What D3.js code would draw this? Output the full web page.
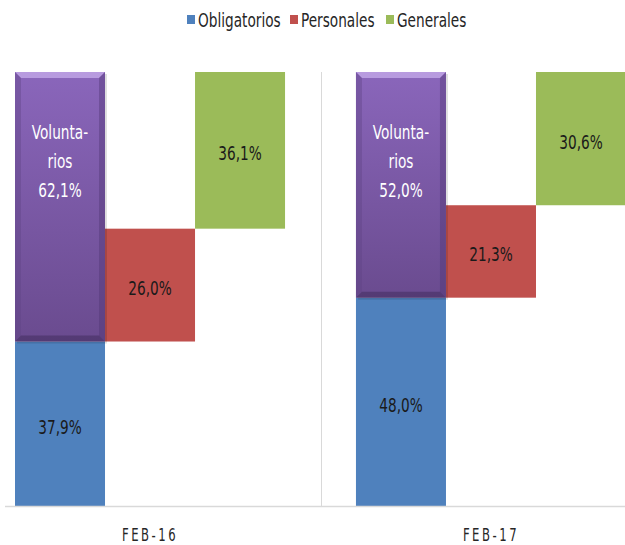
<!DOCTYPE html>
<html>
<head>
<meta charset="utf-8">
<script src="https://cdn.jsdelivr.net/npm/d3@7"></script>
<style>
  body { margin: 0; background: #fff; }
  svg text { font-family: "DejaVu Sans Condensed", "DejaVu Sans", sans-serif; }
</style>
</head>
<body>
<div id="chart"></div>
<script>
const categories = ["FEB-16", "FEB-17"];
const series = ["Obligatorios", "Personales", "Generales"];
const obligatorios = [37.9, 48.0];
const personales = [26.0, 21.3];
const generales = [36.1, 30.6];
const voluntarios = [62.1, 52.0];
const colors = { Obligatorios: "#4F81BD", Personales: "#C0504D", Generales: "#9BBB59" };

const fmt = v => d3.format(".1f")(v).replace(".", ",") + "%";
const SX = 0.76; // horizontal squeeze to mimic the narrow font

const width = 625, height = 545;
const svg = d3.select("#chart").append("svg")
  .attr("width", width).attr("height", height);

// narrow text helper
function ntext(parent, x, y, str, opts) {
  const g = parent.append("g").attr("transform", `translate(${x},${y}) scale(${opts.sx || SX},1)`);
  return g.append("text")
    .attr("text-anchor", opts.anchor || "middle")
    .attr("font-size", opts.size || 20)
    .attr("letter-spacing", opts.ls || 0)
    .attr("fill", opts.fill || "#1a1a1a")
    .text(str);
}

const x0 = d3.scaleBand().domain(categories).range([15, 626]).paddingInner(0.208).paddingOuter(0);
const x1 = d3.scaleBand().domain(series).range([0, x0.bandwidth()]).padding(0);
const y = d3.scaleLinear().domain([0, 100]).range([506, 72]);

const defs = svg.append("defs");
const grad = defs.append("linearGradient").attr("id", "purp")
  .attr("x1", 0).attr("y1", 0).attr("x2", 0).attr("y2", 1);
grad.append("stop").attr("offset", "0%").attr("stop-color", "#8A66BB");
grad.append("stop").attr("offset", "100%").attr("stop-color", "#6A4B8F");

// waterfall segments
const segs = [];
categories.forEach((c, i) => {
  const o = obligatorios[i], p = personales[i], g = generales[i];
  segs.push({ cat: c, s: "Obligatorios", y0: 0, y1: o, v: o });
  segs.push({ cat: c, s: "Personales", y0: o, y1: o + p, v: p });
  segs.push({ cat: c, s: "Generales", y0: o + p, y1: 100, v: g });
});

const sepX = Math.round((x0("FEB-16") + x0.bandwidth() + x0("FEB-17")) / 2) + 0.5;
svg.append("line")
  .attr("x1", sepX).attr("x2", sepX)
  .attr("y1", y(100)).attr("y2", y(0))
  .attr("stroke", "#D9D9D9").attr("stroke-width", 1);

svg.selectAll("rect.bar")
  .data(segs)
  .join("rect")
  .attr("class", "bar")
  .attr("x", d => x0(d.cat) + x1(d.s))
  .attr("y", d => y(d.y1))
  .attr("width", x1.bandwidth())
  .attr("height", d => y(d.y0) - y(d.y1))
  .attr("fill", d => colors[d.s]);

segs.forEach(d => {
  ntext(svg, x0(d.cat) + x1(d.s) + x1.bandwidth() / 2, (y(d.y0) + y(d.y1)) / 2 + 10, fmt(d.v), {});
});

// voluntarios boxes with bevel
categories.forEach((c, i) => {
  const bx = x0(c) + x1("Obligatorios"), bw = x1.bandwidth();
  const top = y(100), bot = y(obligatorios[i]);
  const b = 6;
  const g = svg.append("g");
  g.append("rect").attr("x", bx + 2).attr("y", top + 2).attr("width", bw).attr("height", bot - top)
    .attr("fill", "#000").attr("opacity", 0.12);
  g.append("rect").attr("x", bx).attr("y", top).attr("width", bw).attr("height", bot - top)
    .attr("fill", "url(#purp)");
  const poly = (pts, fill, op) => g.append("polygon")
    .attr("points", pts.map(p => p.join(",")).join(" ")).attr("fill", fill).attr("opacity", op);
  poly([[bx, top], [bx + bw, top], [bx + bw - b, top + b], [bx + b, top + b]], "#C7ADEB", 0.75);
  poly([[bx, top], [bx + b, top + b], [bx + b, bot - b], [bx, bot]], "#5E4385", 0.4);
  poly([[bx + bw, top], [bx + bw - b, top + b], [bx + bw - b, bot - b], [bx + bw, bot]], "#4E3570", 0.4);
  poly([[bx, bot], [bx + b, bot - b], [bx + bw - b, bot - b], [bx + bw, bot]], "#3E2A5A", 0.5);
  const cx = bx + bw / 2;
  [["Volunta-", 131], ["rios", 160], [fmt(voluntarios[i]), 189]].forEach(([t, yy]) => {
    ntext(g, cx, yy + 8, t, { fill: "#fff" });
  });
});

svg.append("line").attr("x1", 5).attr("x2", 625)
  .attr("y1", y(0) + 0.5).attr("y2", y(0) + 0.5)
  .attr("stroke", "#D9D9D9").attr("stroke-width", 1.5);

// category labels
categories.forEach(c => {
  ntext(svg, x0(c) + x0.bandwidth() / 2, 541, c, { size: 18, ls: 3.5, fill: "#262626", sx: 0.72 });
});

// legend
const legendX = [187, 290, 386];
const leg = svg.selectAll("g.leg")
  .data(series)
  .join("g")
  .attr("class", "leg")
  .attr("transform", (d, i) => `translate(${legendX[i]},0)`);
leg.append("rect").attr("x", 0).attr("y", 15).attr("width", 8).attr("height", 9)
  .attr("fill", d => colors[d]);
leg.each(function (d) {
  ntext(d3.select(this), 11, 27, d, { anchor: "start", fill: "#262626" });
});
</script>
</body>
</html>
